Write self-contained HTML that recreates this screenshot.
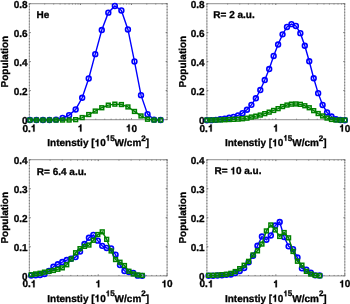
<!DOCTYPE html>
<html><head><meta charset="utf-8"><style>
html,body{margin:0;padding:0;background:#fff;width:350px;height:304px;overflow:hidden}
svg{display:block;will-change:transform}
text{font-family:"Liberation Sans", sans-serif;font-weight:bold;font-size:10px;fill:#000;text-rendering:geometricPrecision;stroke:#000;stroke-width:0.3px}
.h1{fill:none;stroke:none}
</style></head><body>
<svg width="350" height="304" viewBox="0 0 350 304">
<defs><clipPath id="c0"><rect x="24.35" y="-1.4" width="147.75" height="126.0"/></clipPath><clipPath id="c1"><rect x="201.9" y="-1.4" width="147.79999999999998" height="126.0"/></clipPath><clipPath id="c2"><rect x="24.35" y="154.7" width="147.75" height="126.10000000000002"/></clipPath><clipPath id="c3"><rect x="201.9" y="154.7" width="147.9" height="126.10000000000002"/></clipPath></defs>
<rect width="350" height="304" fill="#fff"/>
<path d="M28.85 3.6H167.6M28.85 119.6H167.6" stroke="#a4a4a4" stroke-width="1.3" fill="none"/>
<path d="M29.35 3.6V119.6M167.1 3.6V119.6" stroke="#a8a8a8" stroke-width="1" fill="none"/>
<path d="M29.35 3.6V119.6M167.1 3.6V119.6" stroke="#7a7a7a" stroke-width="1" fill="none" stroke-dasharray="1.1 1.82" stroke-dashoffset="0.47"/>
<path d="M29.35 119.6v-1.4M29.35 3.6v1.4M44.71 119.6v-0.84M44.71 3.6v0.84M53.7 119.6v-0.84M53.7 3.6v0.84M60.08 119.6v-0.84M60.08 3.6v0.84M65.02 119.6v-0.84M65.02 3.6v0.84M69.07 119.6v-0.84M69.07 3.6v0.84M72.48 119.6v-0.84M72.48 3.6v0.84M75.44 119.6v-0.84M75.44 3.6v0.84M78.05 119.6v-0.84M78.05 3.6v0.84M80.39 119.6v-1.4M80.39 3.6v1.4M95.75 119.6v-0.84M95.75 3.6v0.84M104.74 119.6v-0.84M104.74 3.6v0.84M111.12 119.6v-0.84M111.12 3.6v0.84M116.06 119.6v-0.84M116.06 3.6v0.84M120.1 119.6v-0.84M120.1 3.6v0.84M123.52 119.6v-0.84M123.52 3.6v0.84M126.48 119.6v-0.84M126.48 3.6v0.84M129.09 119.6v-0.84M129.09 3.6v0.84M131.43 119.6v-1.4M131.43 3.6v1.4M146.79 119.6v-0.84M146.79 3.6v0.84M155.78 119.6v-0.84M155.78 3.6v0.84M162.15 119.6v-0.84M162.15 3.6v0.84M167.1 119.6v-0.84M167.1 3.6v0.84M29.35 119.6h1.4M167.1 119.6h-1.4M29.35 90.6h1.4M167.1 90.6h-1.4M29.35 61.6h1.4M167.1 61.6h-1.4M29.35 32.6h1.4M167.1 32.6h-1.4M29.35 3.6h1.4M167.1 3.6h-1.4" stroke="#707070" stroke-width="1" fill="none"/>
<text x="29.35" y="131.6" text-anchor="middle">0.<tspan class="h1">1</tspan></text>
<text x="80.39" y="131.6" text-anchor="middle"><tspan class="h1">1</tspan></text>
<text x="131.43" y="131.6" text-anchor="middle"><tspan class="h1">1</tspan>0</text>
<text x="27.55" y="123.6" text-anchor="end">0</text>
<text x="27.55" y="94.6" text-anchor="end">0.2</text>
<text x="27.55" y="65.6" text-anchor="end">0.4</text>
<text x="27.55" y="36.6" text-anchor="end">0.6</text>
<text x="27.55" y="7.6" text-anchor="end">0.8</text>
<text x="98.22" y="146.3" text-anchor="middle">Intenstiy [<tspan class="h1">1</tspan>0<tspan font-size="8" dy="-5.5"><tspan class="h1">1</tspan>5</tspan><tspan dy="5.5">W/cm</tspan><tspan font-size="8" dy="-5.5">2</tspan><tspan dy="5.5">]</tspan></text>
<text transform="translate(8.15,61.6) rotate(-90)" text-anchor="middle">Population</text>
<text x="36.55" y="18.1">He</text>
<g clip-path="url(#c0)">
<polyline points="29.9,120.05 36.44,120.05 42.97,120.05 49.5,119.95 56.04,119.65 62.57,117.95 69.11,115.15 75.65,109.45 82.18,97.75 88.72,78.45 95.25,54.15 101.78,30.05 108.32,12.65 114.85,5.95 121.39,10.45 127.93,29.45 134.46,61.45 141,95.15 147.53,114.15 154.06,119.65 160.6,120.05" fill="none" stroke="#0000ff" stroke-width="1.4"/>
<circle cx="29.9" cy="120.05" r="2.4" fill="none" stroke="#0000ff" stroke-width="1.6"/>
<circle cx="36.44" cy="120.05" r="2.4" fill="none" stroke="#0000ff" stroke-width="1.6"/>
<circle cx="42.97" cy="120.05" r="2.4" fill="none" stroke="#0000ff" stroke-width="1.6"/>
<circle cx="49.5" cy="119.95" r="2.4" fill="none" stroke="#0000ff" stroke-width="1.6"/>
<circle cx="56.04" cy="119.65" r="2.4" fill="none" stroke="#0000ff" stroke-width="1.6"/>
<circle cx="62.57" cy="117.95" r="2.4" fill="none" stroke="#0000ff" stroke-width="1.6"/>
<circle cx="69.11" cy="115.15" r="2.4" fill="none" stroke="#0000ff" stroke-width="1.6"/>
<circle cx="75.65" cy="109.45" r="2.4" fill="none" stroke="#0000ff" stroke-width="1.6"/>
<circle cx="82.18" cy="97.75" r="2.4" fill="none" stroke="#0000ff" stroke-width="1.6"/>
<circle cx="88.72" cy="78.45" r="2.4" fill="none" stroke="#0000ff" stroke-width="1.6"/>
<circle cx="95.25" cy="54.15" r="2.4" fill="none" stroke="#0000ff" stroke-width="1.6"/>
<circle cx="101.78" cy="30.05" r="2.4" fill="none" stroke="#0000ff" stroke-width="1.6"/>
<circle cx="108.32" cy="12.65" r="2.4" fill="none" stroke="#0000ff" stroke-width="1.6"/>
<circle cx="114.85" cy="5.95" r="2.4" fill="none" stroke="#0000ff" stroke-width="1.6"/>
<circle cx="121.39" cy="10.45" r="2.4" fill="none" stroke="#0000ff" stroke-width="1.6"/>
<circle cx="127.93" cy="29.45" r="2.4" fill="none" stroke="#0000ff" stroke-width="1.6"/>
<circle cx="134.46" cy="61.45" r="2.4" fill="none" stroke="#0000ff" stroke-width="1.6"/>
<circle cx="141" cy="95.15" r="2.4" fill="none" stroke="#0000ff" stroke-width="1.6"/>
<circle cx="147.53" cy="114.15" r="2.4" fill="none" stroke="#0000ff" stroke-width="1.6"/>
<circle cx="154.06" cy="119.65" r="2.4" fill="none" stroke="#0000ff" stroke-width="1.6"/>
<circle cx="160.6" cy="120.05" r="2.4" fill="none" stroke="#0000ff" stroke-width="1.6"/>
<polyline points="29.9,120.05 36.44,120.05 42.97,120.05 49.5,120.05 56.04,120.05 62.57,120.05 69.11,120.05 75.65,119.65 82.18,117.55 88.72,114.55 95.25,111.05 101.78,107.75 108.32,105.15 114.85,104.15 121.39,104.55 127.93,106.95 134.46,111.45 141,115.95 147.53,119.25 154.06,120.05 160.6,120.05" fill="none" stroke="#008000" stroke-width="1.4"/>
<rect x="28" y="118.15" width="3.8" height="3.8" fill="none" stroke="#008000" stroke-width="1.5"/>
<rect x="34.54" y="118.15" width="3.8" height="3.8" fill="none" stroke="#008000" stroke-width="1.5"/>
<rect x="41.07" y="118.15" width="3.8" height="3.8" fill="none" stroke="#008000" stroke-width="1.5"/>
<rect x="47.6" y="118.15" width="3.8" height="3.8" fill="none" stroke="#008000" stroke-width="1.5"/>
<rect x="54.14" y="118.15" width="3.8" height="3.8" fill="none" stroke="#008000" stroke-width="1.5"/>
<rect x="60.67" y="118.15" width="3.8" height="3.8" fill="none" stroke="#008000" stroke-width="1.5"/>
<rect x="67.21" y="118.15" width="3.8" height="3.8" fill="none" stroke="#008000" stroke-width="1.5"/>
<rect x="73.75" y="117.75" width="3.8" height="3.8" fill="none" stroke="#008000" stroke-width="1.5"/>
<rect x="80.28" y="115.65" width="3.8" height="3.8" fill="none" stroke="#008000" stroke-width="1.5"/>
<rect x="86.81" y="112.65" width="3.8" height="3.8" fill="none" stroke="#008000" stroke-width="1.5"/>
<rect x="93.35" y="109.15" width="3.8" height="3.8" fill="none" stroke="#008000" stroke-width="1.5"/>
<rect x="99.88" y="105.85" width="3.8" height="3.8" fill="none" stroke="#008000" stroke-width="1.5"/>
<rect x="106.42" y="103.25" width="3.8" height="3.8" fill="none" stroke="#008000" stroke-width="1.5"/>
<rect x="112.95" y="102.25" width="3.8" height="3.8" fill="none" stroke="#008000" stroke-width="1.5"/>
<rect x="119.49" y="102.65" width="3.8" height="3.8" fill="none" stroke="#008000" stroke-width="1.5"/>
<rect x="126.03" y="105.05" width="3.8" height="3.8" fill="none" stroke="#008000" stroke-width="1.5"/>
<rect x="132.56" y="109.55" width="3.8" height="3.8" fill="none" stroke="#008000" stroke-width="1.5"/>
<rect x="139.09" y="114.05" width="3.8" height="3.8" fill="none" stroke="#008000" stroke-width="1.5"/>
<rect x="145.63" y="117.35" width="3.8" height="3.8" fill="none" stroke="#008000" stroke-width="1.5"/>
<rect x="152.16" y="118.15" width="3.8" height="3.8" fill="none" stroke="#008000" stroke-width="1.5"/>
<rect x="158.7" y="118.15" width="3.8" height="3.8" fill="none" stroke="#008000" stroke-width="1.5"/>
</g>
<path d="M206.4 3.6H345.2M206.4 119.6H345.2" stroke="#a4a4a4" stroke-width="1.3" fill="none"/>
<path d="M206.9 3.6V119.6M344.7 3.6V119.6" stroke="#a8a8a8" stroke-width="1" fill="none"/>
<path d="M206.9 3.6V119.6M344.7 3.6V119.6" stroke="#7a7a7a" stroke-width="1" fill="none" stroke-dasharray="1.1 1.82" stroke-dashoffset="0.57"/>
<path d="M206.9 119.6v-1.4M206.9 3.6v1.4M227.64 119.6v-0.84M227.64 3.6v0.84M239.77 119.6v-0.84M239.77 3.6v0.84M248.38 119.6v-0.84M248.38 3.6v0.84M255.06 119.6v-0.84M255.06 3.6v0.84M260.51 119.6v-0.84M260.51 3.6v0.84M265.13 119.6v-0.84M265.13 3.6v0.84M269.12 119.6v-0.84M269.12 3.6v0.84M272.65 119.6v-0.84M272.65 3.6v0.84M275.8 119.6v-1.4M275.8 3.6v1.4M296.54 119.6v-0.84M296.54 3.6v0.84M308.67 119.6v-0.84M308.67 3.6v0.84M317.28 119.6v-0.84M317.28 3.6v0.84M323.96 119.6v-0.84M323.96 3.6v0.84M329.41 119.6v-0.84M329.41 3.6v0.84M334.03 119.6v-0.84M334.03 3.6v0.84M338.02 119.6v-0.84M338.02 3.6v0.84M341.55 119.6v-0.84M341.55 3.6v0.84M344.7 119.6v-1.4M344.7 3.6v1.4M206.9 119.6h1.4M344.7 119.6h-1.4M206.9 90.6h1.4M344.7 90.6h-1.4M206.9 61.6h1.4M344.7 61.6h-1.4M206.9 32.6h1.4M344.7 32.6h-1.4M206.9 3.6h1.4M344.7 3.6h-1.4" stroke="#707070" stroke-width="1" fill="none"/>
<text x="206.5" y="131.6" text-anchor="middle">0.<tspan class="h1">1</tspan></text>
<text x="275.8" y="131.6" text-anchor="middle"><tspan class="h1">1</tspan></text>
<text x="344.7" y="131.6" text-anchor="middle"><tspan class="h1">1</tspan>0</text>
<text x="204.6" y="123.6" text-anchor="end">0</text>
<text x="204.6" y="94.6" text-anchor="end">0.2</text>
<text x="204.6" y="65.6" text-anchor="end">0.4</text>
<text x="204.6" y="36.6" text-anchor="end">0.6</text>
<text x="204.6" y="7.6" text-anchor="end">0.8</text>
<text x="275.8" y="146.3" text-anchor="middle">Intenstiy [<tspan class="h1">1</tspan>0<tspan font-size="8" dy="-5.5"><tspan class="h1">1</tspan>5</tspan><tspan dy="5.5">W/cm</tspan><tspan font-size="8" dy="-5.5">2</tspan><tspan dy="5.5">]</tspan></text>
<text transform="translate(185.7,61.6) rotate(-90)" text-anchor="middle">Population</text>
<text x="213.3" y="18.35">R= 2 a.u.</text>
<g clip-path="url(#c1)">
<polyline points="206.9,120.25 211.35,120.15 215.8,119.85 220.25,119.25 224.7,118.65 229.15,117.75 233.6,116.85 238.05,115.35 242.5,113.15 246.95,109.75 251.4,104.85 255.85,98.25 260.3,90.05 264.75,80.05 269.2,69.05 273.65,55.95 278.1,44.55 282.55,34.35 287,26.95 291.45,24.15 295.9,25.95 300.35,33.15 304.8,45.75 309.25,61.25 313.7,78.25 318.15,93.15 322.6,104.95 327.05,112.45 331.5,116.55 335.95,119.25 340.4,120.05 344.85,120.25" fill="none" stroke="#0000ff" stroke-width="1.4"/>
<circle cx="206.9" cy="120.25" r="2.4" fill="none" stroke="#0000ff" stroke-width="1.6"/>
<circle cx="211.35" cy="120.15" r="2.4" fill="none" stroke="#0000ff" stroke-width="1.6"/>
<circle cx="215.8" cy="119.85" r="2.4" fill="none" stroke="#0000ff" stroke-width="1.6"/>
<circle cx="220.25" cy="119.25" r="2.4" fill="none" stroke="#0000ff" stroke-width="1.6"/>
<circle cx="224.7" cy="118.65" r="2.4" fill="none" stroke="#0000ff" stroke-width="1.6"/>
<circle cx="229.15" cy="117.75" r="2.4" fill="none" stroke="#0000ff" stroke-width="1.6"/>
<circle cx="233.6" cy="116.85" r="2.4" fill="none" stroke="#0000ff" stroke-width="1.6"/>
<circle cx="238.05" cy="115.35" r="2.4" fill="none" stroke="#0000ff" stroke-width="1.6"/>
<circle cx="242.5" cy="113.15" r="2.4" fill="none" stroke="#0000ff" stroke-width="1.6"/>
<circle cx="246.95" cy="109.75" r="2.4" fill="none" stroke="#0000ff" stroke-width="1.6"/>
<circle cx="251.4" cy="104.85" r="2.4" fill="none" stroke="#0000ff" stroke-width="1.6"/>
<circle cx="255.85" cy="98.25" r="2.4" fill="none" stroke="#0000ff" stroke-width="1.6"/>
<circle cx="260.3" cy="90.05" r="2.4" fill="none" stroke="#0000ff" stroke-width="1.6"/>
<circle cx="264.75" cy="80.05" r="2.4" fill="none" stroke="#0000ff" stroke-width="1.6"/>
<circle cx="269.2" cy="69.05" r="2.4" fill="none" stroke="#0000ff" stroke-width="1.6"/>
<circle cx="273.65" cy="55.95" r="2.4" fill="none" stroke="#0000ff" stroke-width="1.6"/>
<circle cx="278.1" cy="44.55" r="2.4" fill="none" stroke="#0000ff" stroke-width="1.6"/>
<circle cx="282.55" cy="34.35" r="2.4" fill="none" stroke="#0000ff" stroke-width="1.6"/>
<circle cx="287" cy="26.95" r="2.4" fill="none" stroke="#0000ff" stroke-width="1.6"/>
<circle cx="291.45" cy="24.15" r="2.4" fill="none" stroke="#0000ff" stroke-width="1.6"/>
<circle cx="295.9" cy="25.95" r="2.4" fill="none" stroke="#0000ff" stroke-width="1.6"/>
<circle cx="300.35" cy="33.15" r="2.4" fill="none" stroke="#0000ff" stroke-width="1.6"/>
<circle cx="304.8" cy="45.75" r="2.4" fill="none" stroke="#0000ff" stroke-width="1.6"/>
<circle cx="309.25" cy="61.25" r="2.4" fill="none" stroke="#0000ff" stroke-width="1.6"/>
<circle cx="313.7" cy="78.25" r="2.4" fill="none" stroke="#0000ff" stroke-width="1.6"/>
<circle cx="318.15" cy="93.15" r="2.4" fill="none" stroke="#0000ff" stroke-width="1.6"/>
<circle cx="322.6" cy="104.95" r="2.4" fill="none" stroke="#0000ff" stroke-width="1.6"/>
<circle cx="327.05" cy="112.45" r="2.4" fill="none" stroke="#0000ff" stroke-width="1.6"/>
<circle cx="331.5" cy="116.55" r="2.4" fill="none" stroke="#0000ff" stroke-width="1.6"/>
<circle cx="335.95" cy="119.25" r="2.4" fill="none" stroke="#0000ff" stroke-width="1.6"/>
<circle cx="340.4" cy="120.05" r="2.4" fill="none" stroke="#0000ff" stroke-width="1.6"/>
<circle cx="344.85" cy="120.25" r="2.4" fill="none" stroke="#0000ff" stroke-width="1.6"/>
<polyline points="206.9,120.05 211.35,120.05 215.8,120.05 220.25,119.95 224.7,119.75 229.15,119.55 233.6,119.35 238.05,119.15 242.5,118.75 246.95,118.15 251.4,117.05 255.85,116.15 260.3,115.05 264.75,113.65 269.2,112.15 273.65,110.45 278.1,108.65 282.55,106.55 287,105.05 291.45,104.15 295.9,103.95 300.35,104.35 304.8,105.75 309.25,107.75 313.7,110.65 318.15,113.55 322.6,115.95 327.05,118.05 331.5,119.45 335.95,120.05 340.4,120.05 344.85,120.05" fill="none" stroke="#008000" stroke-width="1.4"/>
<rect x="205" y="118.15" width="3.8" height="3.8" fill="none" stroke="#008000" stroke-width="1.5"/>
<rect x="209.45" y="118.15" width="3.8" height="3.8" fill="none" stroke="#008000" stroke-width="1.5"/>
<rect x="213.9" y="118.15" width="3.8" height="3.8" fill="none" stroke="#008000" stroke-width="1.5"/>
<rect x="218.35" y="118.05" width="3.8" height="3.8" fill="none" stroke="#008000" stroke-width="1.5"/>
<rect x="222.8" y="117.85" width="3.8" height="3.8" fill="none" stroke="#008000" stroke-width="1.5"/>
<rect x="227.25" y="117.65" width="3.8" height="3.8" fill="none" stroke="#008000" stroke-width="1.5"/>
<rect x="231.7" y="117.45" width="3.8" height="3.8" fill="none" stroke="#008000" stroke-width="1.5"/>
<rect x="236.15" y="117.25" width="3.8" height="3.8" fill="none" stroke="#008000" stroke-width="1.5"/>
<rect x="240.6" y="116.85" width="3.8" height="3.8" fill="none" stroke="#008000" stroke-width="1.5"/>
<rect x="245.05" y="116.25" width="3.8" height="3.8" fill="none" stroke="#008000" stroke-width="1.5"/>
<rect x="249.5" y="115.15" width="3.8" height="3.8" fill="none" stroke="#008000" stroke-width="1.5"/>
<rect x="253.95" y="114.25" width="3.8" height="3.8" fill="none" stroke="#008000" stroke-width="1.5"/>
<rect x="258.4" y="113.15" width="3.8" height="3.8" fill="none" stroke="#008000" stroke-width="1.5"/>
<rect x="262.85" y="111.75" width="3.8" height="3.8" fill="none" stroke="#008000" stroke-width="1.5"/>
<rect x="267.3" y="110.25" width="3.8" height="3.8" fill="none" stroke="#008000" stroke-width="1.5"/>
<rect x="271.75" y="108.55" width="3.8" height="3.8" fill="none" stroke="#008000" stroke-width="1.5"/>
<rect x="276.2" y="106.75" width="3.8" height="3.8" fill="none" stroke="#008000" stroke-width="1.5"/>
<rect x="280.65" y="104.65" width="3.8" height="3.8" fill="none" stroke="#008000" stroke-width="1.5"/>
<rect x="285.1" y="103.15" width="3.8" height="3.8" fill="none" stroke="#008000" stroke-width="1.5"/>
<rect x="289.55" y="102.25" width="3.8" height="3.8" fill="none" stroke="#008000" stroke-width="1.5"/>
<rect x="294" y="102.05" width="3.8" height="3.8" fill="none" stroke="#008000" stroke-width="1.5"/>
<rect x="298.45" y="102.45" width="3.8" height="3.8" fill="none" stroke="#008000" stroke-width="1.5"/>
<rect x="302.9" y="103.85" width="3.8" height="3.8" fill="none" stroke="#008000" stroke-width="1.5"/>
<rect x="307.35" y="105.85" width="3.8" height="3.8" fill="none" stroke="#008000" stroke-width="1.5"/>
<rect x="311.8" y="108.75" width="3.8" height="3.8" fill="none" stroke="#008000" stroke-width="1.5"/>
<rect x="316.25" y="111.65" width="3.8" height="3.8" fill="none" stroke="#008000" stroke-width="1.5"/>
<rect x="320.7" y="114.05" width="3.8" height="3.8" fill="none" stroke="#008000" stroke-width="1.5"/>
<rect x="325.15" y="116.15" width="3.8" height="3.8" fill="none" stroke="#008000" stroke-width="1.5"/>
<rect x="329.6" y="117.55" width="3.8" height="3.8" fill="none" stroke="#008000" stroke-width="1.5"/>
<rect x="334.05" y="118.15" width="3.8" height="3.8" fill="none" stroke="#008000" stroke-width="1.5"/>
<rect x="338.5" y="118.15" width="3.8" height="3.8" fill="none" stroke="#008000" stroke-width="1.5"/>
<rect x="342.95" y="118.15" width="3.8" height="3.8" fill="none" stroke="#008000" stroke-width="1.5"/>
</g>
<path d="M28.85 159.7H167.6M28.85 275.8H167.6" stroke="#a4a4a4" stroke-width="1.3" fill="none"/>
<path d="M29.35 159.7V275.8M167.1 159.7V275.8" stroke="#a8a8a8" stroke-width="1" fill="none"/>
<path d="M29.35 159.7V275.8M167.1 159.7V275.8" stroke="#7a7a7a" stroke-width="1" fill="none" stroke-dasharray="1.1 1.82" stroke-dashoffset="0.57"/>
<path d="M29.35 275.8v-1.4M29.35 159.7v1.4M50.08 275.8v-0.84M50.08 159.7v0.84M62.21 275.8v-0.84M62.21 159.7v0.84M70.82 275.8v-0.84M70.82 159.7v0.84M77.49 275.8v-0.84M77.49 159.7v0.84M82.95 275.8v-0.84M82.95 159.7v0.84M87.56 275.8v-0.84M87.56 159.7v0.84M91.55 275.8v-0.84M91.55 159.7v0.84M95.07 275.8v-0.84M95.07 159.7v0.84M98.22 275.8v-1.4M98.22 159.7v1.4M118.96 275.8v-0.84M118.96 159.7v0.84M131.09 275.8v-0.84M131.09 159.7v0.84M139.69 275.8v-0.84M139.69 159.7v0.84M146.37 275.8v-0.84M146.37 159.7v0.84M151.82 275.8v-0.84M151.82 159.7v0.84M156.43 275.8v-0.84M156.43 159.7v0.84M160.43 275.8v-0.84M160.43 159.7v0.84M163.95 275.8v-0.84M163.95 159.7v0.84M167.1 275.8v-1.4M167.1 159.7v1.4M29.35 275.8h1.4M167.1 275.8h-1.4M29.35 246.78h1.4M167.1 246.78h-1.4M29.35 217.75h1.4M167.1 217.75h-1.4M29.35 188.73h1.4M167.1 188.73h-1.4M29.35 159.7h1.4M167.1 159.7h-1.4" stroke="#707070" stroke-width="1" fill="none"/>
<text x="29.35" y="287.3" text-anchor="middle">0.<tspan class="h1">1</tspan></text>
<text x="98.22" y="287.3" text-anchor="middle"><tspan class="h1">1</tspan></text>
<text x="167.1" y="287.3" text-anchor="middle"><tspan class="h1">1</tspan>0</text>
<text x="27.55" y="279.8" text-anchor="end">0</text>
<text x="27.55" y="250.78" text-anchor="end">0.1</text>
<text x="27.55" y="221.75" text-anchor="end">0.2</text>
<text x="27.55" y="192.73" text-anchor="end">0.3</text>
<text x="27.55" y="163.7" text-anchor="end">0.4</text>
<text x="98.22" y="301.8" text-anchor="middle">Intenstiy [<tspan class="h1">1</tspan>0<tspan font-size="8" dy="-5.5"><tspan class="h1">1</tspan>5</tspan><tspan dy="5.5">W/cm</tspan><tspan font-size="8" dy="-5.5">2</tspan><tspan dy="5.5">]</tspan></text>
<text transform="translate(8.15,217.75) rotate(-90)" text-anchor="middle">Population</text>
<text x="36.85" y="174.9">R= 6.4 a.u.</text>
<g clip-path="url(#c2)">
<polyline points="31.2,275.45 35.64,275.25 40.08,274.95 44.52,273.95 48.96,270.95 53.4,266.75 57.84,264.25 62.28,262.05 66.72,260.05 71.16,258.75 75.6,257.05 80.04,251.55 84.48,244.05 88.92,237.75 93.36,234.85 97.8,240.65 102.24,245.85 106.68,247.95 111.12,248.45 115.56,254.65 120,265.05 124.44,270.95 128.88,271.95 133.32,272.95 137.76,275.65 142.2,275.85" fill="none" stroke="#0000ff" stroke-width="1.4"/>
<circle cx="31.2" cy="275.45" r="2.4" fill="none" stroke="#0000ff" stroke-width="1.6"/>
<circle cx="35.64" cy="275.25" r="2.4" fill="none" stroke="#0000ff" stroke-width="1.6"/>
<circle cx="40.08" cy="274.95" r="2.4" fill="none" stroke="#0000ff" stroke-width="1.6"/>
<circle cx="44.52" cy="273.95" r="2.4" fill="none" stroke="#0000ff" stroke-width="1.6"/>
<circle cx="48.96" cy="270.95" r="2.4" fill="none" stroke="#0000ff" stroke-width="1.6"/>
<circle cx="53.4" cy="266.75" r="2.4" fill="none" stroke="#0000ff" stroke-width="1.6"/>
<circle cx="57.84" cy="264.25" r="2.4" fill="none" stroke="#0000ff" stroke-width="1.6"/>
<circle cx="62.28" cy="262.05" r="2.4" fill="none" stroke="#0000ff" stroke-width="1.6"/>
<circle cx="66.72" cy="260.05" r="2.4" fill="none" stroke="#0000ff" stroke-width="1.6"/>
<circle cx="71.16" cy="258.75" r="2.4" fill="none" stroke="#0000ff" stroke-width="1.6"/>
<circle cx="75.6" cy="257.05" r="2.4" fill="none" stroke="#0000ff" stroke-width="1.6"/>
<circle cx="80.04" cy="251.55" r="2.4" fill="none" stroke="#0000ff" stroke-width="1.6"/>
<circle cx="84.48" cy="244.05" r="2.4" fill="none" stroke="#0000ff" stroke-width="1.6"/>
<circle cx="88.92" cy="237.75" r="2.4" fill="none" stroke="#0000ff" stroke-width="1.6"/>
<circle cx="93.36" cy="234.85" r="2.4" fill="none" stroke="#0000ff" stroke-width="1.6"/>
<circle cx="97.8" cy="240.65" r="2.4" fill="none" stroke="#0000ff" stroke-width="1.6"/>
<circle cx="102.24" cy="245.85" r="2.4" fill="none" stroke="#0000ff" stroke-width="1.6"/>
<circle cx="106.68" cy="247.95" r="2.4" fill="none" stroke="#0000ff" stroke-width="1.6"/>
<circle cx="111.12" cy="248.45" r="2.4" fill="none" stroke="#0000ff" stroke-width="1.6"/>
<circle cx="115.56" cy="254.65" r="2.4" fill="none" stroke="#0000ff" stroke-width="1.6"/>
<circle cx="120" cy="265.05" r="2.4" fill="none" stroke="#0000ff" stroke-width="1.6"/>
<circle cx="124.44" cy="270.95" r="2.4" fill="none" stroke="#0000ff" stroke-width="1.6"/>
<circle cx="128.88" cy="271.95" r="2.4" fill="none" stroke="#0000ff" stroke-width="1.6"/>
<circle cx="133.32" cy="272.95" r="2.4" fill="none" stroke="#0000ff" stroke-width="1.6"/>
<circle cx="137.76" cy="275.65" r="2.4" fill="none" stroke="#0000ff" stroke-width="1.6"/>
<circle cx="142.2" cy="275.85" r="2.4" fill="none" stroke="#0000ff" stroke-width="1.6"/>
<polyline points="31.2,274.75 35.64,273.95 40.08,273.25 44.52,272.15 48.96,271.35 53.4,270.45 57.84,269.25 62.28,267.85 66.72,264.75 71.16,259.05 75.6,252.75 80.04,248.65 84.48,246.35 88.92,245.05 93.36,240.25 97.8,234.55 102.24,231.85 106.68,239.35 111.12,250.95 115.56,259.55 120,262.25 124.44,265.55 128.88,271.25 133.32,273.95 137.76,274.95 142.2,275.45" fill="none" stroke="#008000" stroke-width="1.4"/>
<rect x="29.3" y="272.85" width="3.8" height="3.8" fill="none" stroke="#008000" stroke-width="1.5"/>
<rect x="33.74" y="272.05" width="3.8" height="3.8" fill="none" stroke="#008000" stroke-width="1.5"/>
<rect x="38.18" y="271.35" width="3.8" height="3.8" fill="none" stroke="#008000" stroke-width="1.5"/>
<rect x="42.62" y="270.25" width="3.8" height="3.8" fill="none" stroke="#008000" stroke-width="1.5"/>
<rect x="47.06" y="269.45" width="3.8" height="3.8" fill="none" stroke="#008000" stroke-width="1.5"/>
<rect x="51.5" y="268.55" width="3.8" height="3.8" fill="none" stroke="#008000" stroke-width="1.5"/>
<rect x="55.94" y="267.35" width="3.8" height="3.8" fill="none" stroke="#008000" stroke-width="1.5"/>
<rect x="60.38" y="265.95" width="3.8" height="3.8" fill="none" stroke="#008000" stroke-width="1.5"/>
<rect x="64.82" y="262.85" width="3.8" height="3.8" fill="none" stroke="#008000" stroke-width="1.5"/>
<rect x="69.26" y="257.15" width="3.8" height="3.8" fill="none" stroke="#008000" stroke-width="1.5"/>
<rect x="73.7" y="250.85" width="3.8" height="3.8" fill="none" stroke="#008000" stroke-width="1.5"/>
<rect x="78.14" y="246.75" width="3.8" height="3.8" fill="none" stroke="#008000" stroke-width="1.5"/>
<rect x="82.58" y="244.45" width="3.8" height="3.8" fill="none" stroke="#008000" stroke-width="1.5"/>
<rect x="87.02" y="243.15" width="3.8" height="3.8" fill="none" stroke="#008000" stroke-width="1.5"/>
<rect x="91.46" y="238.35" width="3.8" height="3.8" fill="none" stroke="#008000" stroke-width="1.5"/>
<rect x="95.9" y="232.65" width="3.8" height="3.8" fill="none" stroke="#008000" stroke-width="1.5"/>
<rect x="100.34" y="229.95" width="3.8" height="3.8" fill="none" stroke="#008000" stroke-width="1.5"/>
<rect x="104.78" y="237.45" width="3.8" height="3.8" fill="none" stroke="#008000" stroke-width="1.5"/>
<rect x="109.22" y="249.05" width="3.8" height="3.8" fill="none" stroke="#008000" stroke-width="1.5"/>
<rect x="113.66" y="257.65" width="3.8" height="3.8" fill="none" stroke="#008000" stroke-width="1.5"/>
<rect x="118.1" y="260.35" width="3.8" height="3.8" fill="none" stroke="#008000" stroke-width="1.5"/>
<rect x="122.54" y="263.65" width="3.8" height="3.8" fill="none" stroke="#008000" stroke-width="1.5"/>
<rect x="126.98" y="269.35" width="3.8" height="3.8" fill="none" stroke="#008000" stroke-width="1.5"/>
<rect x="131.42" y="272.05" width="3.8" height="3.8" fill="none" stroke="#008000" stroke-width="1.5"/>
<rect x="135.86" y="273.05" width="3.8" height="3.8" fill="none" stroke="#008000" stroke-width="1.5"/>
<rect x="140.3" y="273.55" width="3.8" height="3.8" fill="none" stroke="#008000" stroke-width="1.5"/>
</g>
<path d="M206.4 159.7H345.3M206.4 275.8H345.3" stroke="#a4a4a4" stroke-width="1.3" fill="none"/>
<path d="M206.9 159.7V275.8M344.8 159.7V275.8" stroke="#a8a8a8" stroke-width="1" fill="none"/>
<path d="M206.9 159.7V275.8M344.8 159.7V275.8" stroke="#7a7a7a" stroke-width="1" fill="none" stroke-dasharray="1.1 1.82" stroke-dashoffset="0.57"/>
<path d="M206.9 275.8v-1.4M206.9 159.7v1.4M227.66 275.8v-0.84M227.66 159.7v0.84M239.8 275.8v-0.84M239.8 159.7v0.84M248.41 275.8v-0.84M248.41 159.7v0.84M255.09 275.8v-0.84M255.09 159.7v0.84M260.55 275.8v-0.84M260.55 159.7v0.84M265.17 275.8v-0.84M265.17 159.7v0.84M269.17 275.8v-0.84M269.17 159.7v0.84M272.7 275.8v-0.84M272.7 159.7v0.84M275.85 275.8v-1.4M275.85 159.7v1.4M296.61 275.8v-0.84M296.61 159.7v0.84M308.75 275.8v-0.84M308.75 159.7v0.84M317.36 275.8v-0.84M317.36 159.7v0.84M324.04 275.8v-0.84M324.04 159.7v0.84M329.5 275.8v-0.84M329.5 159.7v0.84M334.12 275.8v-0.84M334.12 159.7v0.84M338.12 275.8v-0.84M338.12 159.7v0.84M341.65 275.8v-0.84M341.65 159.7v0.84M344.8 275.8v-1.4M344.8 159.7v1.4M206.9 275.8h1.4M344.8 275.8h-1.4M206.9 246.78h1.4M344.8 246.78h-1.4M206.9 217.75h1.4M344.8 217.75h-1.4M206.9 188.73h1.4M344.8 188.73h-1.4M206.9 159.7h1.4M344.8 159.7h-1.4" stroke="#707070" stroke-width="1" fill="none"/>
<text x="206.5" y="287.3" text-anchor="middle">0.<tspan class="h1">1</tspan></text>
<text x="275.85" y="287.3" text-anchor="middle"><tspan class="h1">1</tspan></text>
<text x="344.8" y="287.3" text-anchor="middle"><tspan class="h1">1</tspan>0</text>
<text x="204.6" y="279.8" text-anchor="end">0</text>
<text x="204.6" y="250.78" text-anchor="end">0.1</text>
<text x="204.6" y="221.75" text-anchor="end">0.2</text>
<text x="204.6" y="192.73" text-anchor="end">0.3</text>
<text x="204.6" y="163.7" text-anchor="end">0.4</text>
<text x="275.85" y="301.8" text-anchor="middle">Intenstiy [<tspan class="h1">1</tspan>0<tspan font-size="8" dy="-5.5"><tspan class="h1">1</tspan>5</tspan><tspan dy="5.5">W/cm</tspan><tspan font-size="8" dy="-5.5">2</tspan><tspan dy="5.5">]</tspan></text>
<text transform="translate(185.7,217.75) rotate(-90)" text-anchor="middle">Population</text>
<text x="214.5" y="174.3">R= <tspan class="h1">1</tspan>0 a.u.</text>
<g clip-path="url(#c3)">
<polyline points="208.6,275.75 213.04,275.75 217.49,275.55 221.93,275.25 226.38,274.85 230.82,274.45 235.26,272.95 239.71,270.95 244.15,267.95 248.6,262.25 253.04,255.75 257.48,245.75 261.93,236.55 266.37,239.75 270.82,235.45 275.26,225.55 279.7,222.05 284.15,236.95 288.59,246.35 293.04,249.15 297.48,257.55 301.92,268.35 306.37,269.65 310.81,272.65 315.26,275.35 319.7,275.55" fill="none" stroke="#0000ff" stroke-width="1.4"/>
<circle cx="208.6" cy="275.75" r="2.4" fill="none" stroke="#0000ff" stroke-width="1.6"/>
<circle cx="213.04" cy="275.75" r="2.4" fill="none" stroke="#0000ff" stroke-width="1.6"/>
<circle cx="217.49" cy="275.55" r="2.4" fill="none" stroke="#0000ff" stroke-width="1.6"/>
<circle cx="221.93" cy="275.25" r="2.4" fill="none" stroke="#0000ff" stroke-width="1.6"/>
<circle cx="226.38" cy="274.85" r="2.4" fill="none" stroke="#0000ff" stroke-width="1.6"/>
<circle cx="230.82" cy="274.45" r="2.4" fill="none" stroke="#0000ff" stroke-width="1.6"/>
<circle cx="235.26" cy="272.95" r="2.4" fill="none" stroke="#0000ff" stroke-width="1.6"/>
<circle cx="239.71" cy="270.95" r="2.4" fill="none" stroke="#0000ff" stroke-width="1.6"/>
<circle cx="244.15" cy="267.95" r="2.4" fill="none" stroke="#0000ff" stroke-width="1.6"/>
<circle cx="248.6" cy="262.25" r="2.4" fill="none" stroke="#0000ff" stroke-width="1.6"/>
<circle cx="253.04" cy="255.75" r="2.4" fill="none" stroke="#0000ff" stroke-width="1.6"/>
<circle cx="257.48" cy="245.75" r="2.4" fill="none" stroke="#0000ff" stroke-width="1.6"/>
<circle cx="261.93" cy="236.55" r="2.4" fill="none" stroke="#0000ff" stroke-width="1.6"/>
<circle cx="266.37" cy="239.75" r="2.4" fill="none" stroke="#0000ff" stroke-width="1.6"/>
<circle cx="270.82" cy="235.45" r="2.4" fill="none" stroke="#0000ff" stroke-width="1.6"/>
<circle cx="275.26" cy="225.55" r="2.4" fill="none" stroke="#0000ff" stroke-width="1.6"/>
<circle cx="279.7" cy="222.05" r="2.4" fill="none" stroke="#0000ff" stroke-width="1.6"/>
<circle cx="284.15" cy="236.95" r="2.4" fill="none" stroke="#0000ff" stroke-width="1.6"/>
<circle cx="288.59" cy="246.35" r="2.4" fill="none" stroke="#0000ff" stroke-width="1.6"/>
<circle cx="293.04" cy="249.15" r="2.4" fill="none" stroke="#0000ff" stroke-width="1.6"/>
<circle cx="297.48" cy="257.55" r="2.4" fill="none" stroke="#0000ff" stroke-width="1.6"/>
<circle cx="301.92" cy="268.35" r="2.4" fill="none" stroke="#0000ff" stroke-width="1.6"/>
<circle cx="306.37" cy="269.65" r="2.4" fill="none" stroke="#0000ff" stroke-width="1.6"/>
<circle cx="310.81" cy="272.65" r="2.4" fill="none" stroke="#0000ff" stroke-width="1.6"/>
<circle cx="315.26" cy="275.35" r="2.4" fill="none" stroke="#0000ff" stroke-width="1.6"/>
<circle cx="319.7" cy="275.55" r="2.4" fill="none" stroke="#0000ff" stroke-width="1.6"/>
<polyline points="208.6,275.35 213.04,275.35 217.49,275.05 221.93,274.65 226.38,274.25 230.82,273.35 235.26,271.55 239.71,268.65 244.15,265.25 248.6,261.35 253.04,254.95 257.48,250.85 261.93,244.05 266.37,230.95 270.82,224.95 275.26,229.95 279.7,236.45 284.15,232.55 288.59,237.85 293.04,251.45 297.48,261.25 301.92,265.15 306.37,271.35 310.81,274.05 315.26,275.35 319.7,275.75" fill="none" stroke="#008000" stroke-width="1.4"/>
<rect x="206.7" y="273.45" width="3.8" height="3.8" fill="none" stroke="#008000" stroke-width="1.5"/>
<rect x="211.14" y="273.45" width="3.8" height="3.8" fill="none" stroke="#008000" stroke-width="1.5"/>
<rect x="215.59" y="273.15" width="3.8" height="3.8" fill="none" stroke="#008000" stroke-width="1.5"/>
<rect x="220.03" y="272.75" width="3.8" height="3.8" fill="none" stroke="#008000" stroke-width="1.5"/>
<rect x="224.48" y="272.35" width="3.8" height="3.8" fill="none" stroke="#008000" stroke-width="1.5"/>
<rect x="228.92" y="271.45" width="3.8" height="3.8" fill="none" stroke="#008000" stroke-width="1.5"/>
<rect x="233.36" y="269.65" width="3.8" height="3.8" fill="none" stroke="#008000" stroke-width="1.5"/>
<rect x="237.81" y="266.75" width="3.8" height="3.8" fill="none" stroke="#008000" stroke-width="1.5"/>
<rect x="242.25" y="263.35" width="3.8" height="3.8" fill="none" stroke="#008000" stroke-width="1.5"/>
<rect x="246.7" y="259.45" width="3.8" height="3.8" fill="none" stroke="#008000" stroke-width="1.5"/>
<rect x="251.14" y="253.05" width="3.8" height="3.8" fill="none" stroke="#008000" stroke-width="1.5"/>
<rect x="255.58" y="248.95" width="3.8" height="3.8" fill="none" stroke="#008000" stroke-width="1.5"/>
<rect x="260.03" y="242.15" width="3.8" height="3.8" fill="none" stroke="#008000" stroke-width="1.5"/>
<rect x="264.47" y="229.05" width="3.8" height="3.8" fill="none" stroke="#008000" stroke-width="1.5"/>
<rect x="268.92" y="223.05" width="3.8" height="3.8" fill="none" stroke="#008000" stroke-width="1.5"/>
<rect x="273.36" y="228.05" width="3.8" height="3.8" fill="none" stroke="#008000" stroke-width="1.5"/>
<rect x="277.8" y="234.55" width="3.8" height="3.8" fill="none" stroke="#008000" stroke-width="1.5"/>
<rect x="282.25" y="230.65" width="3.8" height="3.8" fill="none" stroke="#008000" stroke-width="1.5"/>
<rect x="286.69" y="235.95" width="3.8" height="3.8" fill="none" stroke="#008000" stroke-width="1.5"/>
<rect x="291.14" y="249.55" width="3.8" height="3.8" fill="none" stroke="#008000" stroke-width="1.5"/>
<rect x="295.58" y="259.35" width="3.8" height="3.8" fill="none" stroke="#008000" stroke-width="1.5"/>
<rect x="300.02" y="263.25" width="3.8" height="3.8" fill="none" stroke="#008000" stroke-width="1.5"/>
<rect x="304.47" y="269.45" width="3.8" height="3.8" fill="none" stroke="#008000" stroke-width="1.5"/>
<rect x="308.91" y="272.15" width="3.8" height="3.8" fill="none" stroke="#008000" stroke-width="1.5"/>
<rect x="313.36" y="273.45" width="3.8" height="3.8" fill="none" stroke="#008000" stroke-width="1.5"/>
<rect x="317.8" y="273.85" width="3.8" height="3.8" fill="none" stroke="#008000" stroke-width="1.5"/>
</g>
<path d="M383 0H245V490C205 455 150 440 92 436V545C165 552 215 590 240 640C250 660 256 685 260 710H383Z" transform="translate(30.74,131.6) scale(0.0100,-0.0100)" fill="#000" stroke="#000" stroke-width="30.0"/>
<path d="M383 0H245V490C205 455 150 440 92 436V545C165 552 215 590 240 640C250 660 256 685 260 710H383Z" transform="translate(77.61,131.6) scale(0.0100,-0.0100)" fill="#000" stroke="#000" stroke-width="30.0"/>
<path d="M383 0H245V490C205 455 150 440 92 436V545C165 552 215 590 240 640C250 660 256 685 260 710H383Z" transform="translate(125.87,131.6) scale(0.0100,-0.0100)" fill="#000" stroke="#000" stroke-width="30.0"/>
<path d="M383 0H245V490C205 455 150 440 92 436V545C165 552 215 590 240 640C250 660 256 685 260 710H383Z" transform="translate(94.59,146.3) scale(0.0100,-0.0100)" fill="#000" stroke="#000" stroke-width="30.0"/>
<path d="M383 0H245V490C205 455 150 440 92 436V545C165 552 215 590 240 640C250 660 256 685 260 710H383Z" transform="translate(105.71,140.8) scale(0.0080,-0.0080)" fill="#000" stroke="#000" stroke-width="37.5"/>
<path d="M383 0H245V490C205 455 150 440 92 436V545C165 552 215 590 240 640C250 660 256 685 260 710H383Z" transform="translate(207.89,131.6) scale(0.0100,-0.0100)" fill="#000" stroke="#000" stroke-width="30.0"/>
<path d="M383 0H245V490C205 455 150 440 92 436V545C165 552 215 590 240 640C250 660 256 685 260 710H383Z" transform="translate(273.02,131.6) scale(0.0100,-0.0100)" fill="#000" stroke="#000" stroke-width="30.0"/>
<path d="M383 0H245V490C205 455 150 440 92 436V545C165 552 215 590 240 640C250 660 256 685 260 710H383Z" transform="translate(339.14,131.6) scale(0.0100,-0.0100)" fill="#000" stroke="#000" stroke-width="30.0"/>
<path d="M383 0H245V490C205 455 150 440 92 436V545C165 552 215 590 240 640C250 660 256 685 260 710H383Z" transform="translate(272.17,146.3) scale(0.0100,-0.0100)" fill="#000" stroke="#000" stroke-width="30.0"/>
<path d="M383 0H245V490C205 455 150 440 92 436V545C165 552 215 590 240 640C250 660 256 685 260 710H383Z" transform="translate(283.29,140.8) scale(0.0080,-0.0080)" fill="#000" stroke="#000" stroke-width="37.5"/>
<path d="M383 0H245V490C205 455 150 440 92 436V545C165 552 215 590 240 640C250 660 256 685 260 710H383Z" transform="translate(30.74,287.3) scale(0.0100,-0.0100)" fill="#000" stroke="#000" stroke-width="30.0"/>
<path d="M383 0H245V490C205 455 150 440 92 436V545C165 552 215 590 240 640C250 660 256 685 260 710H383Z" transform="translate(95.44,287.3) scale(0.0100,-0.0100)" fill="#000" stroke="#000" stroke-width="30.0"/>
<path d="M383 0H245V490C205 455 150 440 92 436V545C165 552 215 590 240 640C250 660 256 685 260 710H383Z" transform="translate(161.54,287.3) scale(0.0100,-0.0100)" fill="#000" stroke="#000" stroke-width="30.0"/>
<path d="M383 0H245V490C205 455 150 440 92 436V545C165 552 215 590 240 640C250 660 256 685 260 710H383Z" transform="translate(94.59,301.8) scale(0.0100,-0.0100)" fill="#000" stroke="#000" stroke-width="30.0"/>
<path d="M383 0H245V490C205 455 150 440 92 436V545C165 552 215 590 240 640C250 660 256 685 260 710H383Z" transform="translate(105.71,296.3) scale(0.0080,-0.0080)" fill="#000" stroke="#000" stroke-width="37.5"/>
<path d="M383 0H245V490C205 455 150 440 92 436V545C165 552 215 590 240 640C250 660 256 685 260 710H383Z" transform="translate(207.89,287.3) scale(0.0100,-0.0100)" fill="#000" stroke="#000" stroke-width="30.0"/>
<path d="M383 0H245V490C205 455 150 440 92 436V545C165 552 215 590 240 640C250 660 256 685 260 710H383Z" transform="translate(273.07,287.3) scale(0.0100,-0.0100)" fill="#000" stroke="#000" stroke-width="30.0"/>
<path d="M383 0H245V490C205 455 150 440 92 436V545C165 552 215 590 240 640C250 660 256 685 260 710H383Z" transform="translate(339.24,287.3) scale(0.0100,-0.0100)" fill="#000" stroke="#000" stroke-width="30.0"/>
<path d="M383 0H245V490C205 455 150 440 92 436V545C165 552 215 590 240 640C250 660 256 685 260 710H383Z" transform="translate(272.22,301.8) scale(0.0100,-0.0100)" fill="#000" stroke="#000" stroke-width="30.0"/>
<path d="M383 0H245V490C205 455 150 440 92 436V545C165 552 215 590 240 640C250 660 256 685 260 710H383Z" transform="translate(283.34,296.3) scale(0.0080,-0.0080)" fill="#000" stroke="#000" stroke-width="37.5"/>
<path d="M383 0H245V490C205 455 150 440 92 436V545C165 552 215 590 240 640C250 660 256 685 260 710H383Z" transform="translate(230.34,174.3) scale(0.0100,-0.0100)" fill="#000" stroke="#000" stroke-width="30.0"/>
</svg>
</body></html>
